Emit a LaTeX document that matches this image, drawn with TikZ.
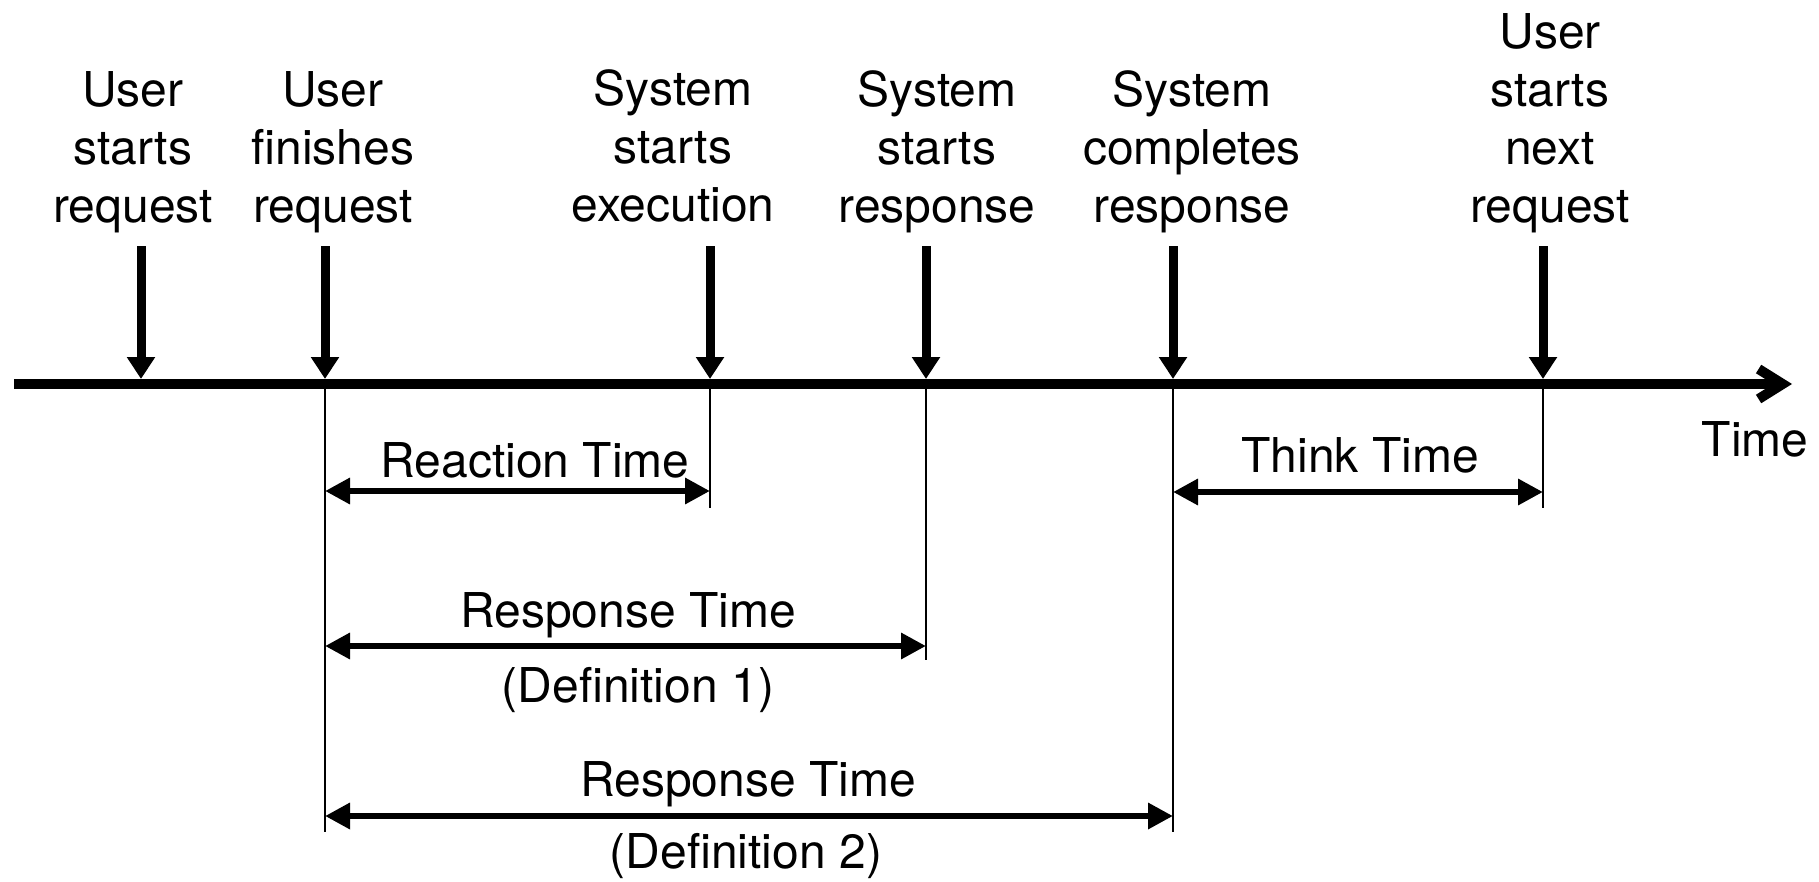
\documentclass[tikz,border=0pt]{standalone}
\usepackage{fontspec}
\setmainfont{TeX Gyre Heros}
\usetikzlibrary{arrows.meta}
\begin{document}
\begin{tikzpicture}[x=1pt,y=-1pt,
  lab/.style={font=\fontsize{48}{58}\selectfont, inner sep=0pt},
  evlab/.style={lab, align=center, anchor=south},
  event/.style={line width=9pt, -{Triangle[length=22pt,width=27pt]}},
  axis/.style={line width=10pt, -{Straight Barb[length=24pt,width=30pt]}},
  span/.style={line width=6.5pt, {Triangle[length=25pt,width=25pt]}-{Triangle[length=25pt,width=25pt]}},
  guide/.style={line width=2.5pt}]
\useasboundingbox (0,0) rectangle (1819,881);

% time axis
\coordinate (t0) at (14,384);
\coordinate (tend) at (1792,384);
\draw[axis] (t0) -- (tend);
\node[lab, anchor=base] (timelab) at (1755,456) {Time};

% event points on the axis and arrow tops
\foreach \i/\x in {1/141,2/325,3/710,4/926,5/1173,6/1543}{
  \coordinate (p\i) at (\x,379);
  \coordinate (a\i) at (\x,246);
  \coordinate (g\i) at (\x,384);
}

% event labels (bottom line baseline at y=222)
\node[evlab] (e1) at (133,233) {User\\starts\\request};
\node[evlab] (e2) at (333,233) {User\\finishes\\request};
\node[evlab] (e3) at (673,222) {System\\starts\\execution};
\node[evlab] (e4) at (937,233) {System\\starts\\response};
\node[evlab] (e5) at (1192,233) {System\\completes\\response};
\node[evlab] (e6) at (1550,233) {User\\starts\\next\\request};

\foreach \i in {1,...,6}{
  \draw[event] (a\i) -- (p\i);
}

% guide lines below the axis
\coordinate (b2) at (325,832);
\coordinate (b3) at (710,508);
\coordinate (b4) at (926,660);
\coordinate (b5) at (1173,832);
\coordinate (b6) at (1543,508);
\foreach \i in {2,...,6}{
  \draw[guide] (g\i) -- (b\i);
}

% interval spans
\coordinate (r1l) at (325,491);  \coordinate (r1r) at (710,491);
\coordinate (r2l) at (325,646);  \coordinate (r2r) at (926,646);
\coordinate (r3l) at (325,816);  \coordinate (r3r) at (1173,816);
\coordinate (r4l) at (1173,492); \coordinate (r4r) at (1543,492);
\draw[span] (r1l) -- (r1r);
\draw[span] (r2l) -- (r2r);
\draw[span] (r3l) -- (r3r);
\draw[span] (r4l) -- (r4r);

\node[lab, anchor=base] (reaction) at (535,477) {Reaction Time};
\node[lab, anchor=base] (resp1) at (628,627) {Response Time};
\node[lab, anchor=base] (def1) at (638,702) {(Definition 1)};
\node[lab, anchor=base] (resp2) at (748,796) {Response Time};
\node[lab, anchor=base] (def2) at (746,868) {(Definition 2)};
\node[lab, anchor=base] (think) at (1360,472) {Think Time};
\end{tikzpicture}
\end{document}
